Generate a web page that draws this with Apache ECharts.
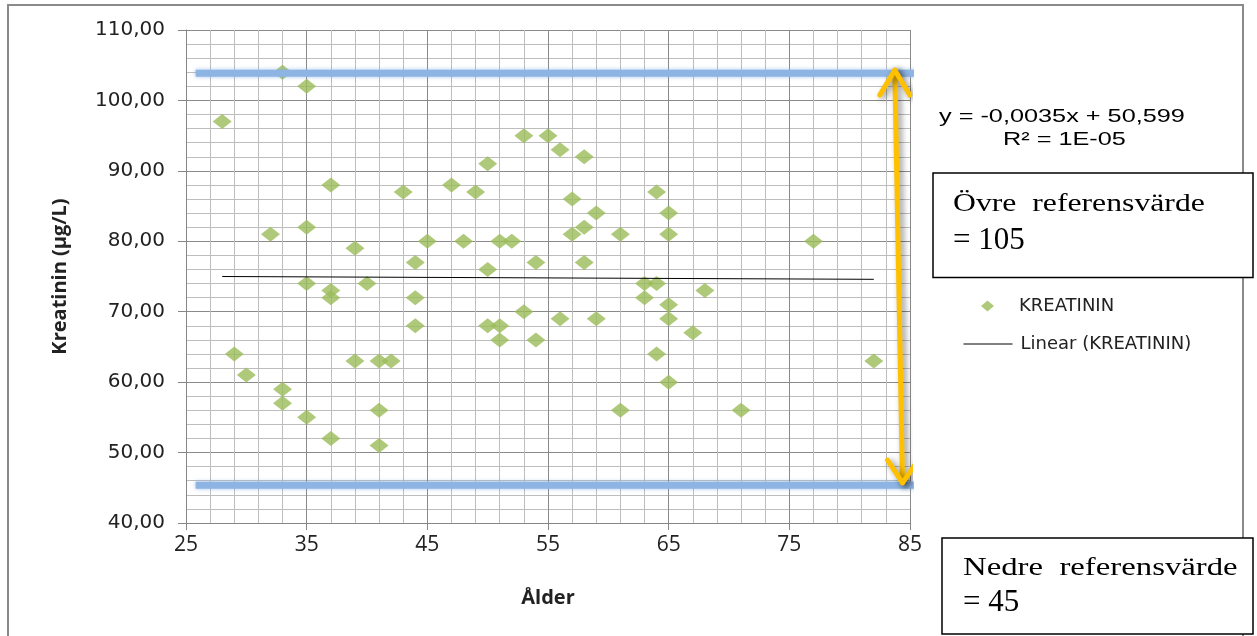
<!DOCTYPE html>
<html>
<head>
<meta charset="utf-8">
<script src="https://cdn.jsdelivr.net/npm/echarts@6.0.0/dist/echarts.min.js"></script>
<style>
html,body{margin:0;padding:0;background:#fff;}
#chart{width:1257px;height:636px;}
</style>
</head>
<body>
<div id="chart"></div>
<script>
// ---- Data ----
const ages = [28,33,35,37,43,35,32,39,45,44,53,55,56,58,50,47,49,57,64,59,65,58,57,61,65,48,51,52,54,58,50,35,37,37,40,44,44,29,30,33,33,35,37,39,41,42,41,41,53,50,51,51,54,56,59,63,64,63,65,65,64,65,61,68,67,71,82,77];
const kreatinin = [97,104,102,88,87,82,81,79,80,77,95,95,93,92,91,88,87,86,87,84,84,82,81,81,81,80,80,80,77,77,76,74,73,72,74,72,68,64,61,59,57,55,52,63,63,63,56,51,70,68,68,66,66,69,69,74,74,72,71,69,64,60,56,73,67,56,63,80];
const trendAges = [28, 82];
const trendValues = [75.0, 74.6];
const refUpperValue = 103.85;
const refLowerValue = 45.37;
const refAgeSpan = [25.8, 85.65];
const arrowShaftAges = [83.74, 84.38];
const arrowShaftValues = [104.3, 45.7];
const arrowTopHeadAges = [82.5, 83.74, 84.98];
const arrowTopHeadValues = [100.77, 104.3, 100.77];
const arrowBottomHeadAges = [83.14, 84.38, 85.67];
const arrowBottomHeadValues = [48.92, 45.7, 48.92];
const xRange = [25, 85];
const yRange = [40, 110];
const tickStep = 10;
const seriesName = 'KREATININ';
const trendName = 'Linear (KREATININ)';
const equationText = 'y = -0,0035x + 50,599';
const r2Text = 'R\u00B2 = 1E-05';
const upperBoxLines = ['\u00D6vre  referensv\u00E4rde', '= 105'];
const lowerBoxLines = ['Nedre  referensv\u00E4rde', '= 45'];

const zip = (xs, ys) => xs.map((x, i) => [x, ys[i]]);

const chart = echarts.init(document.getElementById('chart'), null, {renderer: 'canvas'});

const arrowStyle = {
  color: '#FFC000', width: 5, cap: 'round', join: 'round',
  shadowColor: 'rgba(0,0,0,0.45)', shadowBlur: 6, shadowOffsetX: 3, shadowOffsetY: 2
};
const refStyle = {
  color: '#8DB4E3', width: 7, cap: 'butt',
  shadowColor: 'rgba(110,160,225,0.6)', shadowBlur: 4
};

function annotLine(name, data, style, z) {
  return {
    name: name, type: 'line', data: data, symbol: 'none', clip: false,
    silent: true, lineStyle: style, z: z, animation: false
  };
}

const option = {
  animation: false,
  backgroundColor: '#ffffff',
  grid: {left: 186, top: 30, width: 724, height: 493, containLabel: false},
  xAxis: {
    type: 'value', min: xRange[0], max: xRange[1], interval: tickStep,
    axisLine: {show: true, onZero: false, lineStyle: {color: '#868686', width: 1}},
    axisTick: {show: true, length: 7, lineStyle: {color: '#868686'}},
    axisLabel: {fontFamily: 'Open Sans', fontSize: 21, color: '#222', margin: 12},
    splitLine: {show: true, lineStyle: {color: '#8a8a8a', width: 1}},
    minorTick: {show: false, splitNumber: 5},
    minorSplitLine: {show: true, lineStyle: {color: '#bdbdbd', width: 1}},
    name: 'Ålder', nameLocation: 'middle', nameGap: 65,
    nameTextStyle: {fontFamily: 'Open Sans', fontWeight: 'bold', fontSize: 20, color: '#222'}
  },
  yAxis: {
    type: 'value', min: yRange[0], max: yRange[1], interval: tickStep,
    axisLine: {show: true, onZero: false, lineStyle: {color: '#868686', width: 1}},
    axisTick: {show: true, length: 8, lineStyle: {color: '#868686'}},
    axisLabel: {
      fontFamily: 'DejaVu Sans', fontSize: 20, color: '#222', margin: 21,
      formatter: v => v.toFixed(2).replace('.', ',')
    },
    splitLine: {show: true, lineStyle: {color: '#8a8a8a', width: 1}},
    minorTick: {show: false, splitNumber: 5},
    minorSplitLine: {show: true, lineStyle: {color: '#bdbdbd', width: 1}},
    name: 'Kreatinin (µg/L)', nameLocation: 'middle', nameGap: 116,
    nameTextStyle: {fontFamily: 'Open Sans', fontWeight: 'bold', fontSize: 20, color: '#222'}
  },
  legend: [
    {
      data: [seriesName], left: 981, top: 297, icon: 'diamond', padding: 0,
      itemWidth: 13, itemHeight: 11, selectedMode: false,
      textStyle: {fontFamily: 'DejaVu Sans', fontSize: 18, color: '#222', padding: [0, 0, 0, 20]}
    },
    {
      data: [trendName], left: 963, top: 335, padding: 0,
      itemWidth: 49, itemHeight: 12, selectedMode: false,
      itemStyle: {color: 'rgba(0,0,0,0)', borderWidth: 0, opacity: 0},
      lineStyle: {color: '#000', width: 1},
      textStyle: {fontFamily: 'DejaVu Sans', fontSize: 18, color: '#222', padding: [0, 0, 0, 3]}
    }
  ],
  series: [
    {
      name: seriesName, type: 'scatter', data: zip(ages, kreatinin),
      symbol: 'diamond', symbolSize: [19, 15],
      itemStyle: {color: '#9BBB59'}, z: 2
    },
    {
      name: trendName, type: 'line', data: zip(trendAges, trendValues),
      symbol: 'none', itemStyle: {color: '#000'},
      lineStyle: {color: '#000', width: 1}, z: 3
    },
    annotLine('refUpper', zip(refAgeSpan, [refUpperValue, refUpperValue]), refStyle, 4),
    annotLine('refLower', zip(refAgeSpan, [refLowerValue, refLowerValue]), refStyle, 4),
    annotLine('arrowShaft', zip(arrowShaftAges, arrowShaftValues), arrowStyle, 5),
    annotLine('arrowTop', zip(arrowTopHeadAges, arrowTopHeadValues), arrowStyle, 5),
    annotLine('arrowBottom', zip(arrowBottomHeadAges, arrowBottomHeadValues), arrowStyle, 5)
  ],
  graphic: [
    {type: 'rect', silent: true, z: -10,
     shape: {x: 8, y: 5, width: 1235, height: 640},
     style: {fill: 'none', stroke: '#8a8a8a', lineWidth: 2}},
    {type: 'text', silent: true, z: 50, x: 939, y: 117, scaleX: 1.33,
     style: {text: equationText, x: 0, y: 0, fill: '#000', fontFamily: 'Liberation Sans', fontSize: 19, align: 'left', verticalAlign: 'middle'}},
    {type: 'text', silent: true, z: 50, x: 1003, y: 140, scaleX: 1.33,
     style: {text: r2Text, x: 0, y: 0, fill: '#000', fontFamily: 'Liberation Sans', fontSize: 19, align: 'left', verticalAlign: 'middle'}},
    {type: 'rect', silent: true, z: 100,
     shape: {x: 933, y: 173, width: 320, height: 104.5},
     style: {fill: '#fff', stroke: '#000', lineWidth: 1.5}},
    {type: 'text', silent: true, z: 101, x: 953, y: 204, scaleX: 1.22,
     style: {text: upperBoxLines[0], x: 0, y: 0, fill: '#000', fontFamily: 'Liberation Serif', fontSize: 26, align: 'left', verticalAlign: 'middle'}},
    {type: 'text', silent: true, z: 101, x: 953, y: 241, scaleX: 1.0,
     style: {text: upperBoxLines[1], x: 0, y: 0, fill: '#000', fontFamily: 'Liberation Serif', fontSize: 31, align: 'left', verticalAlign: 'middle'}},
    {type: 'rect', silent: true, z: 100,
     shape: {x: 942, y: 538, width: 311, height: 96},
     style: {fill: '#fff', stroke: '#000', lineWidth: 1.5}},
    {type: 'text', silent: true, z: 101, x: 963, y: 568, scaleX: 1.26,
     style: {text: lowerBoxLines[0], x: 0, y: 0, fill: '#000', fontFamily: 'Liberation Serif', fontSize: 26, align: 'left', verticalAlign: 'middle'}},
    {type: 'text', silent: true, z: 101, x: 963, y: 603, scaleX: 1.0,
     style: {text: lowerBoxLines[1], x: 0, y: 0, fill: '#000', fontFamily: 'Liberation Serif', fontSize: 31, align: 'left', verticalAlign: 'middle'}}
  ]
};

chart.setOption(option);
</script>
</body>
</html>
